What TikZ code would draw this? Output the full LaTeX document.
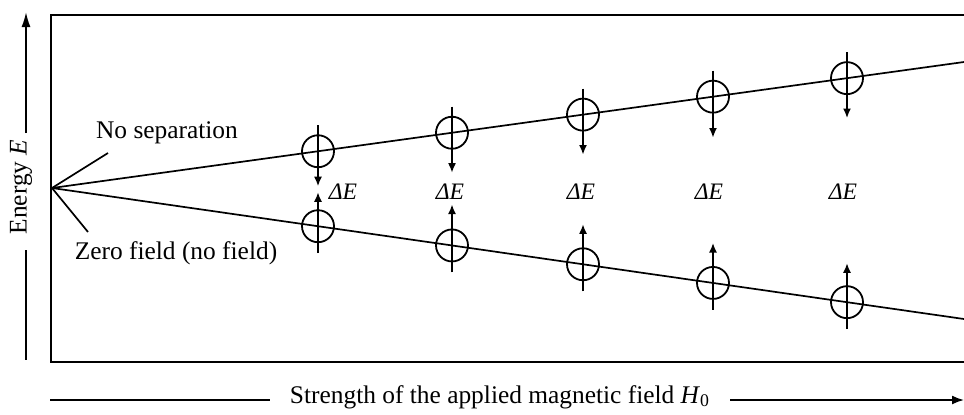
\documentclass[tikz,border=0pt]{standalone}
\usepackage{fontspec}
\setmainfont{Liberation Serif}
\usetikzlibrary{arrows.meta}

\begin{document}
\begin{tikzpicture}[x=0.5pt,y=-0.5pt,line width=0.85pt,>={Latex[length=4.8pt,width=4pt]},
  spin/.style={circle,draw,line width=0.9pt,inner sep=0pt,minimum size=16pt},
  etiq/.style={font=\fontsize{12.7}{14}\selectfont,inner sep=0pt},
  deltaE/.style={font=\fontsize{11.8}{13}\selectfont,inner sep=0pt}]
  \useasboundingbox (0,0) rectangle (964,414);
  % marco abierto a la derecha
  \draw[line width=1pt] (964,14.5) -- (51,14.5) -- (51,361.5) -- (964,361.5);
  % eje de energia
  \node[etiq,rotate=90] (ejeE) at (21,187) {Energy \textit{E}};
  \coordinate (Etop) at (26,12);
  \coordinate (Ea) at (26,133);
  \coordinate (Eb) at (26,250);
  \coordinate (Ebot) at (26,360);
  \draw[-{Latex[length=7.5pt,width=4.5pt]}] (Ea) -- (Etop);
  \draw (Eb) -- (Ebot);
  % eje del campo
  \node[etiq] (ejeH) at (500,397) {Strength of the applied magnetic field \textit{H}\textsubscript{0}};
  \coordinate (Ha) at (50,400);
  \coordinate (Hb) at (270,400);
  \coordinate (Hc) at (730,400);
  \coordinate (Hend) at (964,400);
  \draw (Ha) -- (Hb);
  \draw[-{Latex[length=6pt,width=4.5pt]}] (Hc) -- (Hend);
  % niveles
  \coordinate (o) at (52,188);
  \coordinate (ue) at (964,62);
  \coordinate (le) at (964,319);
  \draw (o) -- (ue);
  \draw (o) -- (le);
  \node[etiq] (nosep) at (167,133) {No separation};
  \node[etiq] (zero) at (176,253) {Zero field (no field)};
  \coordinate (nsend) at (108,153);
  \coordinate (zfend) at (88,232);
  \draw (o) -- (nsend);
  \draw (o) -- (zfend);
  % espines
  \foreach \x/\xd/\tu/\tl [count=\i] in {318/343/17.5/17,452/450/20/20.5,583/581/20/20,713/709/20.5/20,847/843/20/19.5}{
    \pgfmathsetmacro\yu{188-0.1382*(\x-52)}
    \pgfmathsetmacro\yl{188+0.1436*(\x-52)}
    \node[spin] (u\i) at (\x,\yu) {};
    \node[spin] (l\i) at (\x,\yl) {};
    \draw[->] ([yshift=13pt]u\i.center) -- ([yshift=-\tu pt]u\i.center);
    \draw[->] ([yshift=-13.5pt]l\i.center) -- ([yshift=\tl pt]l\i.center);
    \node[deltaE] (dE\i) at (\xd,192) {\textit{ΔE}};
  }
\end{tikzpicture}
\end{document}
